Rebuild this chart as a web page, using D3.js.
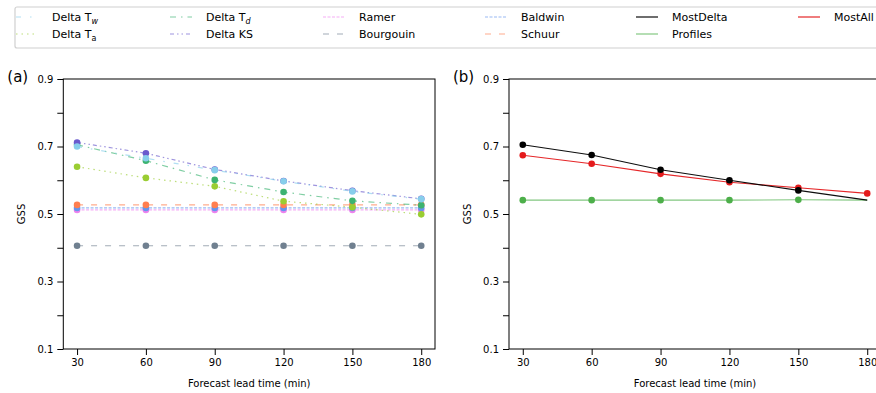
<!DOCTYPE html>
<html>
<head>
  <meta charset="utf-8"><script src="https://d3js.org/d3.v7.min.js"></script>
  <style>
    body { margin: 0; background: white; }
    text { font-family: "DejaVu Sans", sans-serif; }
  </style>
</head>

<body onload="execute()">
  <svg id="mychart" width="876" height="393" style="background: white"></svg>
</body>
<script>
  // lead times (min)
  const leadTimes = [30, 60, 90, 120, 150, 180]

  // panel (a) GSS values
  const deltaTw   = [0.700, 0.665, 0.630, 0.597, 0.567, 0.544]
  const deltaTd   = [0.705, 0.658, 0.601, 0.565, 0.539, 0.526]
  const deltaTa   = [0.640, 0.607, 0.582, 0.538, 0.520, 0.499]
  const deltaKS   = [0.712, 0.680, 0.632, 0.598, 0.569, 0.545]
  const ramer     = [0.512, 0.512, 0.512, 0.512, 0.512, 0.512]
  const baldwin   = [0.518, 0.518, 0.518, 0.518, 0.518, 0.518]
  const bourgouin = [0.406, 0.406, 0.406, 0.406, 0.406, 0.406]
  const schuur    = [0.527, 0.527, 0.527, 0.527, 0.527, 0.527]

  // panel (b) GSS values
  const mostDelta = [0.705, 0.675, 0.631, 0.600, 0.570, 0.541]
  const mostAll   = [0.674, 0.649, 0.619, 0.594, 0.578, 0.561]
  const profiles  = [0.541, 0.541, 0.541, 0.541, 0.542, 0.541]

  const yTicks = [0.1, 0.2, 0.3, 0.4, 0.5, 0.6, 0.7, 0.8, 0.9]
  const yLabelled = [0.1, 0.3, 0.5, 0.7, 0.9]

  function execute() {
    const svg = d3.select("#mychart")

    const seriesA = [
      {name: "Delta T", sub: "w", values: deltaTw, color: "#87ceeb", dash: "5,9,1.5,9"},
      {name: "Delta T", sub: "d", values: deltaTd, color: "#3cb371", dash: "6,5,1.5,5"},
      {name: "Ramer", values: ramer, color: "#ee82ee", dash: "3,1.5"},
      {name: "Baldwin", values: baldwin, color: "#6495ed", dash: "3,1.5"},
      {name: "Delta T", sub: "a", values: deltaTa, color: "#9acd32", dash: "1.5,4"},
      {name: "Delta KS", values: deltaKS, color: "#6a5acd", dash: "4,3,1.5,3,1.5,3"},
      {name: "Bourgouin", values: bourgouin, color: "#708090", dash: "6,8"},
      {name: "Schuur", values: schuur, color: "#ff7f50", dash: "6,8"}
    ]
    const seriesB = [
      {name: "MostDelta", values: mostDelta, color: "#000000", dash: null, markers: 5, opacity: 0.95},
      {name: "MostAll", values: mostAll, color: "#e41a1c", dash: null, markers: 6, opacity: 0.95},
      {name: "Profiles", values: profiles, color: "#4daf4a", dash: null, markers: 5, opacity: 0.7}
    ]

    const plotTop = 79
    const plotBottom = 349

    const y = d3.scaleLinear().domain([0.1, 0.9]).range([plotBottom, plotTop])

    function panel(left, right, label, order) {
      const x = d3.scaleLinear().domain([24, 186]).range([left, right])
      const g = svg.append("g")

      g.append("g")
        .attr("transform", `translate(0,${plotBottom})`)
        .call(d3.axisBottom(x).tickValues(leadTimes).tickSize(6).tickPadding(4).tickSizeOuter(0))
        .call(a => a.select(".domain").remove())
        .call(a => a.selectAll("text").attr("font-size", 10).attr("font-family", "DejaVu Sans"))

      g.append("g")
        .attr("transform", `translate(${left},0)`)
        .call(d3.axisLeft(y).tickValues(yTicks).tickSize(6).tickPadding(4).tickSizeOuter(0)
          .tickFormat(d => yLabelled.some(v => Math.abs(v - d) < 1e-9) ? d3.format(".1f")(d) : ""))
        .call(a => a.select(".domain").remove())
        .call(a => a.selectAll("text").attr("font-size", 10).attr("font-family", "DejaVu Sans"))

      g.append("rect")
        .attr("x", left).attr("y", plotTop)
        .attr("width", right - left).attr("height", plotBottom - plotTop)
        .attr("fill", "none").attr("stroke", "black").attr("stroke-width", 1)

      g.append("text")
        .attr("transform", `translate(${left - 38},${(plotTop + plotBottom) / 2}) rotate(-90)`)
        .attr("text-anchor", "middle").attr("font-size", 10)
        .text("GSS")

      g.append("text")
        .attr("x", (left + right) / 2).attr("y", 387)
        .attr("text-anchor", "middle").attr("font-size", 10)
        .text("Forecast lead time (min)")

      g.append("text")
        .attr("x", left - 56).attr("y", 82)
        .attr("font-size", 15)
        .text(label)

      const line = d3.line().x((d, i) => x(leadTimes[i])).y(d => y(d))

      order.forEach(s => {
        g.append("path")
          .datum(s.values)
          .attr("fill", "none")
          .attr("stroke", s.color)
          .attr("stroke-opacity", s.opacity || 0.65)
          .attr("stroke-width", s.dash ? 1.2 : 1.1)
          .attr("stroke-dasharray", s.dash)
          .attr("d", line)
        const n = s.markers || s.values.length
        g.selectAll(null)
          .data(s.values.slice(0, n))
          .join("circle")
          .attr("cx", (d, i) => x(leadTimes[i]))
          .attr("cy", d => y(d))
          .attr("r", 3.3)
          .attr("fill", s.color)
      })
    }

    const orderA = [seriesA[6], seriesA[2], seriesA[3], seriesA[7], seriesA[4], seriesA[1], seriesA[5], seriesA[0]]
    panel(63.3, 435, "(a)", orderA)
    panel(509, 881, "(b)", [seriesB[2], seriesB[1], seriesB[0]])

    // legend
    const legend = svg.append("g")
    legend.append("rect")
      .attr("x", 15).attr("y", 7).attr("width", 900).attr("height", 41).attr("rx", 2)
      .attr("fill", "white").attr("stroke", "#d0d0d0").attr("stroke-width", 1.2)

    const items = [seriesA[0], seriesA[1], seriesA[2], seriesA[3], seriesB[0], seriesB[1],
                   seriesA[4], seriesA[5], seriesA[6], seriesA[7], seriesB[2]]
    const colX = [15, 169, 322, 484, 635, 797]
    const rowY = [17, 34]

    items.forEach((s, i) => {
      const col = i % 6
      const row = Math.floor(i / 6)
      const hx = colX[col] + 1
      const yy = rowY[row]
      legend.append("line")
        .attr("x1", hx).attr("x2", hx + 22).attr("y1", yy).attr("y2", yy)
        .attr("stroke", s.color).attr("stroke-opacity", s.opacity || 0.65).attr("stroke-width", 1.2)
        .attr("stroke-dasharray", s.dash)
      const t = legend.append("text")
        .attr("x", colX[col] + 37).attr("y", yy + 4)
        .attr("font-size", 11)
        .text(s.name)
      if (s.sub) {
        t.append("tspan").attr("dy", 2.5).attr("font-size", 8)
          .attr("font-style", s.sub === "a" ? "normal" : "italic").text(s.sub)
      }
    })
  }
</script>
</html>
